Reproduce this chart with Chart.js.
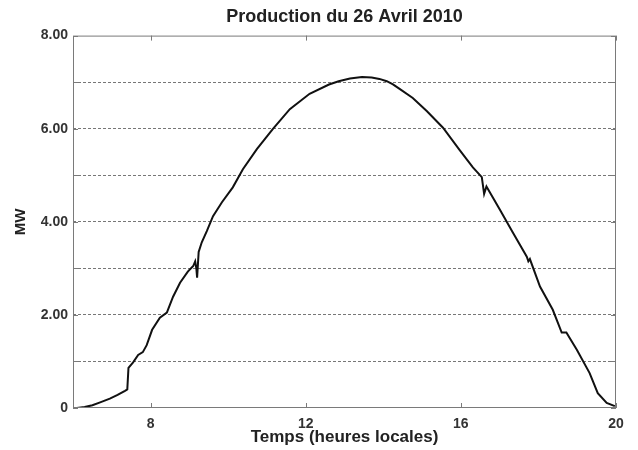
<!DOCTYPE html>
<html>
<head>
<meta charset="utf-8">
<title>Production du 26 Avril 2010</title>
<script src="https://cdn.jsdelivr.net/npm/chart.js@4.4.0/dist/chart.umd.min.js"></script>
<style>
    html, body { margin: 0; padding: 0; background: #fff; }
    #wrap { width: 638px; height: 450px; }
</style>
</head>
<body>
<div id="wrap"><canvas id="prodChart"></canvas></div>
<script>
// Values (local time in hours, power in MW)
const hours = [
    6.1, 6.3, 6.5, 6.7, 6.95, 7.15, 7.34, 7.4, 7.43, 7.55, 7.68, 7.8, 7.9,
    8.04, 8.24, 8.42, 8.58, 8.76, 8.96, 9.1, 9.15, 9.18, 9.2, 9.24, 9.32, 9.45,
    9.61, 9.84, 10.12, 10.38, 10.74, 11.15, 11.59, 12.1, 12.6, 12.85, 13.14, 13.45,
    13.7, 13.9, 14.09, 14.25, 14.43, 14.76, 15.12, 15.54, 15.97, 16.31, 16.54, 16.6, 16.66,
    17.0, 17.34, 17.7, 17.74, 17.78, 18.04, 18.37, 18.6, 18.72, 18.99, 19.32,
    19.53, 19.76, 19.97
];
const production = [
    0, 0.02, 0.06, 0.12, 0.2, 0.28, 0.37, 0.4, 0.86, 0.98, 1.14, 1.2, 1.35,
    1.68, 1.94, 2.05, 2.39, 2.69, 2.93, 3.05, 3.15, 3.0, 2.8, 3.35, 3.56, 3.8,
    4.12, 4.42, 4.74, 5.13, 5.56, 5.99, 6.42, 6.75, 6.95, 7.02, 7.08, 7.11,
    7.1, 7.07, 7.02, 6.95, 6.85, 6.66, 6.38, 6.02, 5.54, 5.17, 4.96, 4.6, 4.76,
    4.27, 3.77, 3.25, 3.15, 3.2, 2.61, 2.11, 1.62, 1.62, 1.25, 0.75,
    0.32, 0.11, 0.04
];
const xTicks = [8, 12, 16, 20];
const yTicks = [0, 1, 2, 3, 4, 5, 6, 7, 8];

const frameColor = '#7a7a7a';
const fontFamily = 'Liberation Sans, Arial, sans-serif';

// Draws the closed box around the plot plus small inward tick marks (matlab style)
const framePlugin = {
    id: 'frame',
    afterDraw(chart) {
        const { ctx, chartArea: a, scales } = chart;
        ctx.save();
        ctx.strokeStyle = frameColor;
        ctx.lineWidth = 1;
        ctx.strokeRect(a.left + 0.5, a.top + 0.5, a.right - a.left - 1, a.bottom - a.top - 1);
        ctx.beginPath();
        xTicks.forEach(v => {
            const px = Math.round(scales.x.getPixelForValue(v)) + 0.5;
            ctx.moveTo(px, a.bottom); ctx.lineTo(px, a.bottom - 5);
            ctx.moveTo(px, a.top); ctx.lineTo(px, a.top + 5);
        });
        yTicks.forEach(v => {
            const py = Math.round(scales.y.getPixelForValue(v)) + 0.5;
            ctx.moveTo(a.left, py); ctx.lineTo(a.left + 5, py);
            ctx.moveTo(a.right, py); ctx.lineTo(a.right - 5, py);
        });
        ctx.stroke();
        ctx.restore();
    }
};

const tickFont = { family: fontFamily, size: 14, weight: 'bold' };

new Chart(document.getElementById('prodChart'), {
    type: 'line',
    data: {
        datasets: [{
            label: 'Production',
            data: hours.map((h, i) => ({ x: h, y: production[i] })),
            borderColor: '#111',
            borderWidth: 2,
            pointRadius: 0,
            tension: 0,
            fill: false
        }]
    },
    options: {
        responsive: true,
        maintainAspectRatio: false,
        animation: false,
        layout: { padding: { left: 0, right: 22, top: 0, bottom: 0 } },
        plugins: {
            legend: { display: false },
            tooltip: { enabled: false },
            title: {
                display: true,
                text: 'Production du 26 Avril 2010',
                fullSize: false,
                color: '#222',
                font: { family: fontFamily, size: 18, weight: 'bold' },
                padding: { top: 6, bottom: 8 }
            }
        },
        scales: {
            x: {
                type: 'linear',
                min: 6,
                max: 20,
                afterBuildTicks(scale) {
                    scale.ticks = xTicks.map(v => ({ value: v }));
                },
                afterFit(scale) { scale.height = 42; },
                grid: { display: false },
                border: { display: false },
                ticks: {
                    color: '#333',
                    font: tickFont,
                    padding: 0,
                    maxRotation: 0,
                    callback: v => String(v)
                },
                title: {
                    display: true,
                    text: 'Temps (heures locales)',
                    color: '#222',
                    font: { family: fontFamily, size: 17, weight: 'bold' },
                    padding: { top: 0, bottom: 2 }
                }
            },
            y: {
                min: 0,
                max: 8,
                afterBuildTicks(scale) {
                    scale.ticks = yTicks.map(v => ({ value: v }));
                },
                afterFit(scale) { scale.width = 73; },
                grid: {
                    color: ctx => (ctx.tick.value === 0 || ctx.tick.value === 8) ? 'rgba(0,0,0,0)' : '#777',
                    lineWidth: 1,
                    drawTicks: false
                },
                border: { display: false, dash: [3, 2] },
                ticks: {
                    color: '#333',
                    font: tickFont,
                    padding: 5,
                    callback: v => v === 0 ? '0' : (v % 2 === 0 ? v.toFixed(2) : '')
                },
                title: {
                    display: true,
                    text: 'MW',
                    color: '#222',
                    font: { family: fontFamily, size: 15, weight: 'bold' },
                    padding: { top: 12, bottom: 0 }
                }
            }
        }
    },
    plugins: [framePlugin]
});
</script>
</body>
</html>
